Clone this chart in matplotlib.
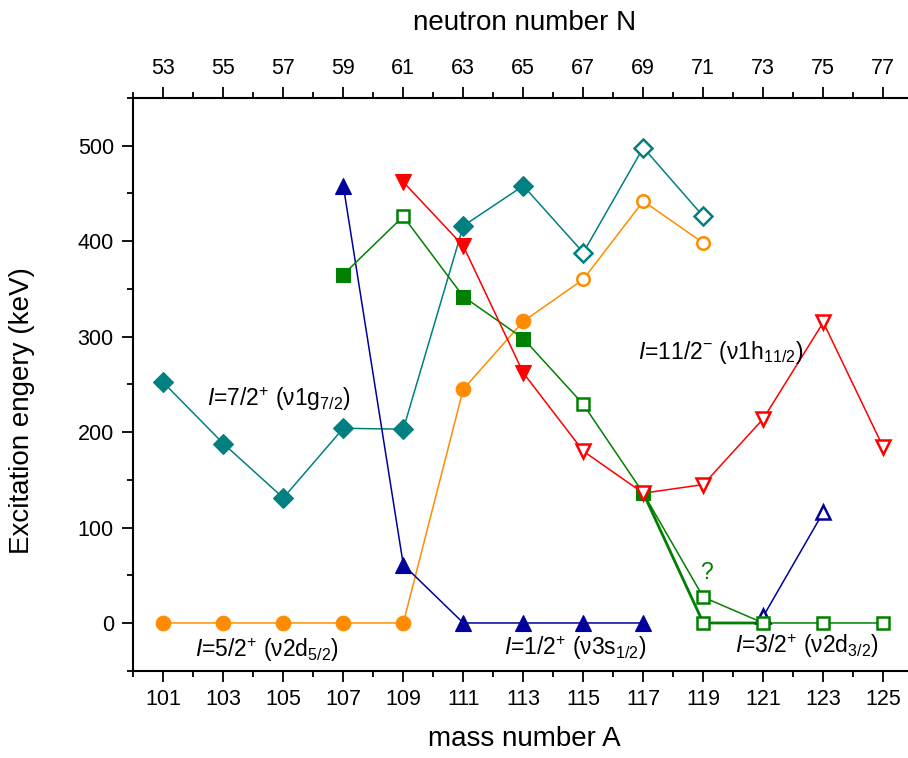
import numpy as np
import matplotlib
matplotlib.use("Agg")
import matplotlib.pyplot as plt

plt.rcParams['font.family'] = ['Liberation Sans', 'DejaVu Sans']
plt.rcParams['mathtext.fontset'] = 'custom'
plt.rcParams['mathtext.rm'] = 'Liberation Sans'
plt.rcParams['mathtext.it'] = 'Liberation Sans:italic'
plt.rcParams['mathtext.bf'] = 'Liberation Sans:bold'

# ---------------- data ----------------
A_ticks = [101, 103, 105, 107, 109, 111, 113, 115, 117, 119, 121, 123, 125]
N_labels = [53, 55, 57, 59, 61, 63, 65, 67, 69, 71, 73, 75, 77]

teal_A = [101, 103, 105, 107, 109, 111, 113, 115, 117, 119]
teal_E = [252, 188, 131, 204, 203, 416, 458, 388, 498, 426]
teal_filled = [True, True, True, True, True, True, True, False, False, False]

orange_A = [101, 103, 105, 107, 109, 111, 113, 115, 117, 119]
orange_E = [0, 0, 0, 0, 0, 245, 316, 360, 442, 398]
orange_filled = [True, True, True, True, True, True, True, False, False, False]

navy_A = [107, 109, 111, 113, 115, 117]
navy_E = [458, 61, 0, 0, 0, 0]
navy2_A = [121, 123]
navy2_E = [7, 116]

red_A = [109, 111, 113, 115, 117, 119, 121, 123, 125]
red_E = [462, 395, 262, 180, 136, 145, 214, 315, 184]
red_filled = [True, True, True, False, False, False, False, False, False]

green_A = [107, 109, 111, 113, 115, 117, 119, 121, 123, 125]
green_E = [365, 426, 342, 298, 229, 136, 0, 0, 0, 0]
green_filled = [True, False, True, True, False, True, False, False, False, False]

greenq_A = [117, 119, 121]
greenq_E = [136, 27, 0]

TEAL = '#008080'
ORANGE = '#FF8C00'
NAVY = '#00009C'
RED = '#FF0000'
GREEN = '#008000'

fig = plt.figure(figsize=(9.08, 7.58), dpi=100)
ax = fig.add_axes([133.3 / 908, (758 - 670.7) / 758, 780 / 908, 572.7 / 758])


def series(A, E, filled, color, marker, ms_f, ms_o, lw=1.1):
    A = np.asarray(A)
    E = np.asarray(E)
    f = np.asarray(filled, dtype=bool)
    ax.plot(A, E, '-', color=color, lw=lw, zorder=2)
    ax.plot(A[f], E[f], linestyle='none', marker=marker, ms=ms_f,
            mfc=color, mec=color, mew=0.8, zorder=3)
    ax.plot(A[~f], E[~f], linestyle='none', marker=marker, ms=ms_o,
            mfc='white', mec=color, mew=1.8, zorder=3)


series(teal_A, teal_E, teal_filled, TEAL, 'D', 10, 9)
series(orange_A, orange_E, orange_filled, ORANGE, 'o', 10.5, 9)
series(navy_A, navy_E, [True] * len(navy_A), NAVY, '^', 11, 10)
series(navy2_A, navy2_E, [False] * len(navy2_A), NAVY, '^', 11, 10)

# green "?" branch
ax.plot(greenq_A, greenq_E, '-', color=GREEN, lw=1.1, zorder=2)
ax.plot(greenq_A[1:2], greenq_E[1:2], linestyle='none', marker='s', ms=8,
        mfc='white', mec=GREEN, mew=1.8, zorder=3)
# thicker doubled segment
ax.plot(green_A[5:8], green_E[5:8], '-', color=GREEN, lw=2.0, zorder=2)
series(green_A, green_E, green_filled, GREEN, 's', 9.5, 8)
series(red_A, red_E, red_filled, RED, 'v', 11, 10)

# annotations
fs = 16.5
ax.text(104.87, 235, r'$I$=7/2$^{+}$ (ν1g$_{7/2}$)', fontsize=fs, ha='center', va='center')
ax.text(104.47, -28, r'$I$=5/2$^{+}$ (ν2d$_{5/2}$)', fontsize=fs, ha='center', va='center')
ax.text(114.73, -26, r'$I$=1/2$^{+}$ (ν3s$_{1/2}$)', fontsize=fs, ha='center', va='center')
ax.text(122.47, -24, r'$I$=3/2$^{+}$ (ν2d$_{3/2}$)', fontsize=fs, ha='center', va='center')
ax.text(119.57, 283, r'$I$=11/2$^{-}$ (ν1h$_{11/2}$)', fontsize=fs, ha='center', va='center')
ax.text(119.1, 53, '?', fontsize=fs, color=GREEN, ha='center', va='center')

# axes
ax.set_xlim(100, 126)
ax.set_ylim(-50, 550)
ax.set_xticks(A_ticks)
ax.set_xticks([100] + [a + 1 for a in A_ticks], minor=True)
ax.set_yticks([0, 100, 200, 300, 400, 500])
ax.set_yticks([-50, 50, 150, 250, 350, 450, 550], minor=True)

for s in ['left', 'bottom', 'top']:
    ax.spines[s].set_linewidth(1.5)
ax.spines['right'].set_visible(False)

ax.tick_params(axis='both', which='major', length=8, width=1.3, direction='out', labelsize=15.5)
ax.tick_params(axis='both', which='minor', length=4.5, width=1.3, direction='out')
ax.tick_params(axis='y', which='both', pad=6)
ax.tick_params(axis='x', which='both', pad=5)

ax.set_xlabel('mass number A', fontsize=20)
ax.xaxis.set_label_coords(0.501, -0.0966)
ax.set_ylabel('Excitation engery (keV)', fontsize=20)
ax.yaxis.set_label_coords(-0.126, 0.4535)

top = ax.twiny()
top.set_xlim(ax.get_xlim())
top.set_xticks(A_ticks)
top.set_xticklabels([str(n) for n in N_labels])
top.set_xticks([100] + [a + 1 for a in A_ticks], minor=True)
top.tick_params(axis='x', which='major', length=8, width=1.3, direction='out', labelsize=15.5, pad=6)
top.tick_params(axis='x', which='minor', length=4.5, width=1.3, direction='out')
for s in top.spines.values():
    s.set_visible(False)
top.set_xlabel('neutron number N', fontsize=20)
top.xaxis.set_label_coords(0.501, 1.118)

fig.savefig('out.png', dpi=100)
